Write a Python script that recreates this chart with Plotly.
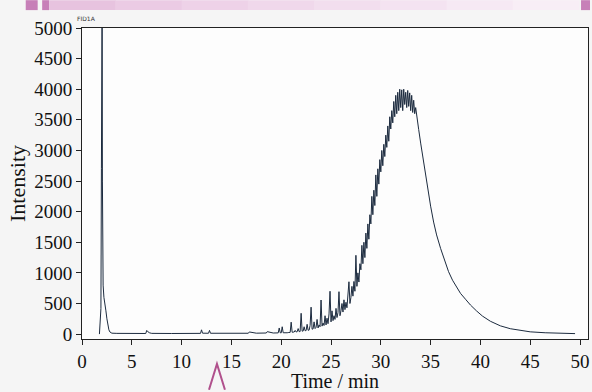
import plotly.graph_objects as go

# ---------------- data ----------------
time_early = [1.75, 1.85, 1.90, 1.95, 1.98, 2.02, 2.05, 2.08, 2.12, 2.20, 2.30, 2.40, 2.50,
              2.60, 2.70, 2.80, 3.00, 3.50, 5.00, 6.40, 6.50, 6.60, 6.80, 7.00, 9.00,
              11.90, 12.00, 12.10, 12.70, 12.80, 12.90, 15.00, 16.70, 16.80, 17.50,
              18.50, 18.60, 19.20, 19.70, 19.80, 19.90]
int_early = [0, 380, 420, 2700, 5600, 5600, 2500, 1200, 800, 600, 520, 380, 250,
             140, 70, 35, 15, 12, 10, 10, 60, 40, 20, 12, 10,
             12, 70, 15, 14, 60, 14, 12, 14, 35, 15,
             18, 40, 18, 20, 100, 22]

time_spiky = [20.0, 20.1, 20.2, 20.3, 20.4, 20.5, 20.6, 20.7, 20.8, 20.9,
              21.0, 21.1, 21.2, 21.3, 21.4, 21.5, 21.6, 21.7, 21.8, 21.9,
              22.0, 22.1, 22.2, 22.3, 22.4, 22.5, 22.6, 22.7, 22.8, 22.9,
              23.0, 23.1, 23.2, 23.3, 23.4, 23.5, 23.6, 23.7, 23.8, 23.9,
              24.0, 24.1, 24.2, 24.3, 24.4, 24.5, 24.6, 24.7, 24.8, 24.9,
              25.0, 25.1, 25.2, 25.3, 25.4, 25.5, 25.6, 25.7, 25.8, 25.9,
              26.0, 26.1, 26.2, 26.3, 26.4, 26.5, 26.6, 26.7, 26.8, 26.9,
              27.0, 27.1, 27.2, 27.3, 27.4, 27.5, 27.6, 27.7, 27.8, 27.9,
              28.0, 28.1, 28.2, 28.3, 28.4, 28.5, 28.6, 28.7, 28.8, 28.9,
              29.0, 29.1, 29.2, 29.3, 29.4, 29.5, 29.6, 29.7, 29.8, 29.9,
              30.0, 30.1, 30.2, 30.3, 30.4, 30.5, 30.6, 30.7, 30.8, 30.9,
              31.0, 31.1, 31.2, 31.3, 31.4, 31.5, 31.6, 31.7, 31.8, 31.9,
              32.0, 32.1, 32.2, 32.3, 32.4, 32.5, 32.6, 32.7, 32.8, 32.9,
              33.0, 33.1, 33.2, 33.3, 33.4, 33.5]
int_spiky = [20, 120, 22, 20, 22, 24, 22, 25, 26, 28,
             195, 30, 32, 34, 60, 35, 38, 90, 40, 42,
             340, 48, 50, 120, 55, 58, 160, 62, 65, 140,
             440, 80, 85, 200, 90, 110, 240, 100, 150, 120,
             557, 130, 180, 140, 300, 150, 260, 170, 330, 700,
             200, 380, 220, 300, 240, 420, 270, 350, 693, 300,
             380, 500, 360, 560, 400, 520, 430, 620, 855, 500,
             600, 780, 620, 860, 700, 1287, 780, 1000, 850, 1150,
             1050, 1450, 1150, 1500, 1250, 1650, 1400, 1800, 1550, 1950,
             1800, 2250, 1950, 2350, 2100, 2600, 2250, 2700, 2450, 2850,
             2650, 3000, 2750, 3100, 2900, 3250, 3050, 3400, 3150, 3550,
             3350, 3650, 3450, 3800, 3550, 3900, 3600, 3950, 3650, 4000,
             3700, 3990, 3650, 4000, 3750, 3950, 3700, 3980, 3720, 3940,
             3650, 3900, 3620, 3820, 3600, 3700]

time_tail = [33.6, 33.8, 34.0, 34.3, 34.6, 34.8, 35.0, 35.3, 35.6, 36.0, 36.4, 36.8,
             37.2, 37.6, 38.0, 38.5, 39.0, 39.6, 40.2, 41.0, 42.0, 43.0, 44.0, 45.0,
             46.5, 48.0, 49.5]
int_tail = [3560, 3344, 3120, 2800, 2480, 2261, 2090, 1830, 1620, 1400, 1190, 1020,
            880, 760, 665, 570, 475, 380, 295, 210, 135, 88, 57, 37,
            22, 14, 8]

x_ticks = [0, 5, 10, 15, 20, 25, 30, 35, 40, 45, 50]
y_ticks = [0, 500, 1000, 1500, 2000, 2500, 3000, 3500, 4000, 4500, 5000]

times = time_early + time_spiky + time_tail
intensity = int_early + int_spiky + int_tail

# ---------------- layout geometry ----------------
W, H = 592, 392
L, R, T, B = 82, 2, 28, 51
PW, PH = W - L - R, H - T - B


def px(X):
    return (X - L) / PW


def py(Y):
    return (H - B - Y) / PH


fig = go.Figure()
fig.add_trace(go.Scatter(x=times, y=intensity, mode="lines",
                         line=dict(color="#1c2b3f", width=1), showlegend=False,
                         hoverinfo="skip"))

serif = "Liberation Serif, Times New Roman, serif"
axis_common = dict(showgrid=False, zeroline=False, showline=True, linecolor="#222222",
                   linewidth=1, mirror=True, ticks="outside", ticklen=5, tickwidth=1,
                   tickcolor="#222222", tickfont=dict(family=serif, size=19, color="#111111"))

fig.update_xaxes(range=[0, 50.8], tickvals=x_ticks, ticktext=[str(v) for v in x_ticks],
                 title=dict(text="Time / min", font=dict(family=serif, size=20, color="#111111"),
                            standoff=4), **axis_common)
fig.update_yaxes(range=[-80, 5000], tickvals=y_ticks, ticktext=[str(v) for v in y_ticks],
                 title=dict(text="Intensity", font=dict(family=serif, size=22, color="#111111"),
                            standoff=2), **axis_common)

shapes = []
# decorative band at top
band = "#c780b8"
shapes.append(dict(type="rect", xref="paper", yref="paper", x0=px(25.5), x1=px(37.5),
                   y0=py(10), y1=py(0), fillcolor=band, line=dict(width=0), layer="above"))
shapes.append(dict(type="rect", xref="paper", yref="paper", x0=px(42), x1=px(49),
                   y0=py(10), y1=py(0), fillcolor=band, line=dict(width=0), layer="above"))
grad = ["#e7c3df", "#ebcbe4", "#eed2e8", "#f0d8eb", "#f2deee", "#f4e3f1", "#f6e9f4", "#f8eef6"]
seg = (581 - 49) / len(grad)
for i, c in enumerate(grad):
    shapes.append(dict(type="rect", xref="paper", yref="paper", x0=px(49 + i * seg),
                       x1=px(49 + (i + 1) * seg + 0.5), y0=py(10), y1=py(0), fillcolor=c,
                       line=dict(width=0), layer="above"))
shapes.append(dict(type="rect", xref="paper", yref="paper", x0=px(583), x1=px(592),
                   y0=py(10), y1=py(0), fillcolor=band, line=dict(width=0), layer="above"))
# caret marker below the axis
shapes.append(dict(type="path", xref="paper", yref="paper",
                   path=f"M {px(209.5)} {py(392)} L {px(217.5)} {py(366)} L {px(225.5)} {py(392)}",
                   line=dict(color="#b0508c", width=2), layer="above"))

fig.update_layout(
    width=W, height=H, margin=dict(l=L, r=R, t=T, b=B, pad=0),
    paper_bgcolor="#f5f5f5", plot_bgcolor="#fdfdfd",
    shapes=shapes,
    annotations=[dict(text="FID1A", xref="paper", yref="paper", x=px(75), y=py(18),
                      xanchor="left", yanchor="middle", showarrow=False,
                      font=dict(family="DejaVu Sans", size=6, color="#333333"))],
)

fig.write_html("out.html", config={"displayModeBar": False},
               post_script="document.body.style.margin='0';document.body.style.overflow='hidden';")
